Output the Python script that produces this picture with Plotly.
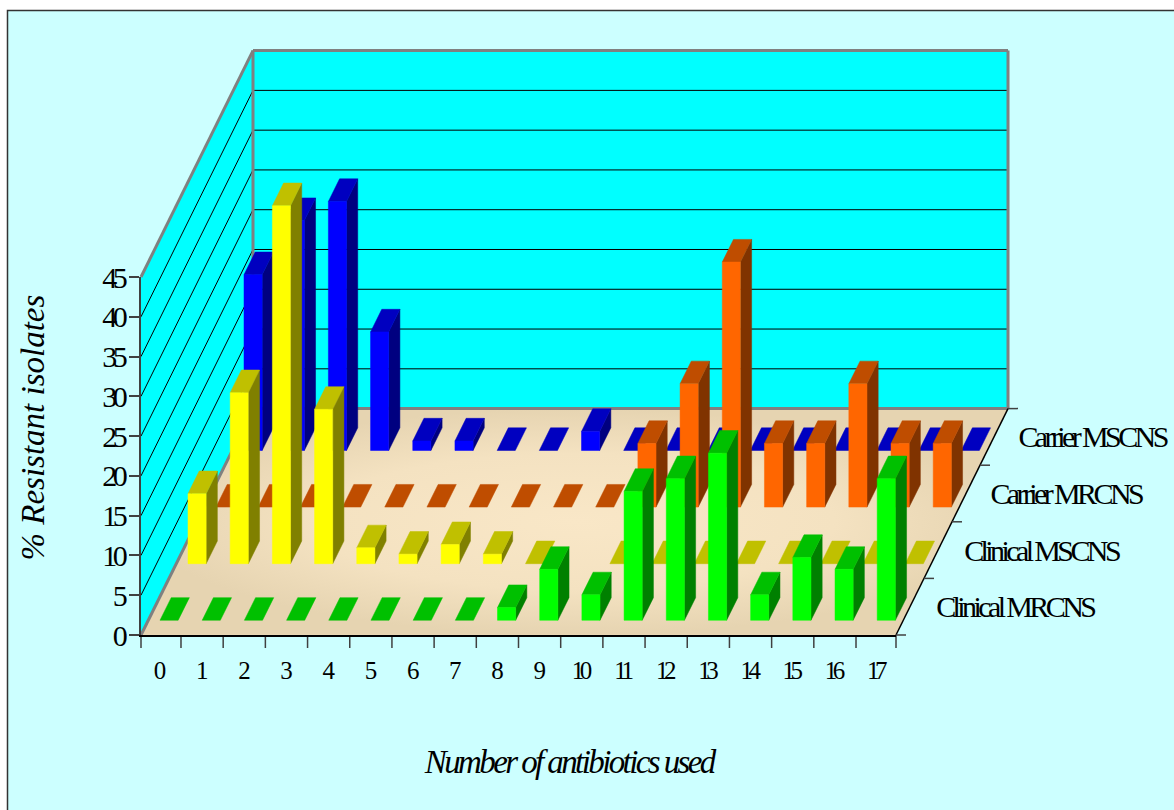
import plotly.graph_objects as go

x_labels = [str(i) for i in range(18)]
y_ticks = list(range(0, 50, 5))
series_names = ["Clinical MRCNS", "Clinical MSCNS", "Carrier MRCNS", "Carrier MSCNS"]
clinical_mrcns = [0, 0, 0, 0, 0, 0, 0, 0, 1.6, 6.4, 3.2, 16.2, 17.8, 21, 3.2, 7.9, 6.4, 17.8]
clinical_mscns = [8.8, 21.5, 45, 19.4, 2, 1.2, 2.4, 1.2, 0, None, 0, 0, 0, 0, 0, 0, 0, 0]
carrier_mrcns = [0, 0, 0, 0, 0, 0, 0, 0, 0, 0, 8, 15.5, 30.8, 8, 8, 15.5, 8, 8]
carrier_mscns = [22.1, 28.9, 31.3, 14.9, 1.2, 1.2, 0, 0, 2.4, 0, 0, 0, 0, 0, 0, 0, 0, 0]
series_values = [clinical_mrcns, clinical_mscns, carrier_mrcns, carrier_mscns]
front_colors = ["#00FF00", "#FFFF00", "#FF6600", "#0000FF"]
top_colors = ["#00C000", "#C0C000", "#BF4D00", "#0000C0"]
side_colors = ["#008000", "#808000", "#803300", "#000080"]

W, H = 1174, 810
PX0, PX1, PY0, PY1 = 141, 896, 635, 277
XR = (0.052, 17.948)
UX = (PX1 - PX0) / (XR[1] - XR[0])
UY = (PY0 - PY1) / 45
DX = 28 / UX    # x-units per series depth
DY = 56.6 / UY  # y-units per series depth
DEPTH = 4


def proj(x, d, y):
    return x + d * DX, y + d * DY


def poly(pts):
    xs, ys = [], []
    for x, d, y in pts:
        a, b = proj(x, d, y)
        xs.append(a)
        ys.append(b)
    return xs + [xs[0], None], ys + [ys[0], None]


def filled(polys, color, gradient=None):
    xs, ys = [], []
    for p in polys:
        a, b = poly(p)
        xs += a
        ys += b
    tr = go.Scatter(x=xs, y=ys, mode="lines", fill="toself", fillcolor=color,
                    line=dict(color=color, width=0.5),
                    hoverinfo="skip", showlegend=False)
    if gradient:
        tr.update(fillgradient=gradient)
    return tr


def segs(lines, color, width):
    xs, ys = [], []
    for a, b in lines:
        for p in (a, b):
            u, v = proj(*p)
            xs.append(u)
            ys.append(v)
        xs.append(None)
        ys.append(None)
    return go.Scatter(x=xs, y=ys, mode="lines", line=dict(color=color, width=width),
                      hoverinfo="skip", showlegend=False)


fig = go.Figure()
x0, x1 = XR
ymax = 45
# walls and floor
fig.add_trace(filled([[(x0, 0, 0), (x0, DEPTH, 0), (x0, DEPTH, ymax), (x0, 0, ymax)],
                      [(x0, DEPTH, 0), (x1, DEPTH, 0), (x1, DEPTH, ymax), (x0, DEPTH, ymax)]], "#00FFFF"))
fig.add_trace(filled([[(x0, 0, 0), (x1, 0, 0), (x1, DEPTH, 0), (x0, DEPTH, 0)]], "#F2E0BF",
                     gradient=dict(type="radial",
                                   colorscale=[[0, "#F9E7C7"], [0.6, "#F4E2C1"], [1, "#E6D4B1"]])))
grid = []
for t in y_ticks[1:-1]:
    grid.append(((x0, 0, t), (x0, DEPTH, t)))
    grid.append(((x0, DEPTH, t), (x1, DEPTH, t)))
fig.add_trace(segs(grid, "#000000", 1))
fig.add_trace(segs([((x0, 0, 0), (x0, DEPTH, 0)), ((x0, DEPTH, 0), (x1, DEPTH, 0)),
                    ((x0, 0, ymax), (x0, DEPTH, ymax)), ((x0, DEPTH, 0), (x0, DEPTH, ymax)),
                    ((x0, DEPTH, ymax), (x1, DEPTH, ymax)), ((x1, DEPTH, ymax), (x1, DEPTH, 0))],
                   "#808080", 3))
# depth axis
fig.add_trace(segs([((x1, 0, 0), (x1, DEPTH, 0))], "#000000", 1.5))
fig.add_trace(segs([((x1, k, 0), (x1 + 10 / UX, k, 0)) for k in range(DEPTH + 1)], "#404040", 1.5))
# x tick marks
xt = [x0] + list(range(1, 18)) + [x1]
fig.add_trace(segs([((t, 0, 0), (t, 0, -13 / UY)) for t in xt], "#404040", 1.5))

# bars
BAR_L, BAR_W, D0, BAR_D = 0.33, 0.43, 0.26, 0.40
for k in range(3, -1, -1):
    vals = series_values[k]
    fronts, sides, tops = [], [], []
    for i, v in enumerate(vals):
        if v is None:
            continue
        a, b = i + BAR_L, i + BAR_L + BAR_W
        d0, d1 = k + D0, k + D0 + BAR_D
        tops.append([(a, d0, v), (b, d0, v), (b, d1, v), (a, d1, v)])
        if v > 0:
            fronts.append([(a, d0, 0), (b, d0, 0), (b, d0, v), (a, d0, v)])
            sides.append([(b, d0, 0), (b, d1, 0), (b, d1, v), (b, d0, v)])
    if sides:
        fig.add_trace(filled(sides, side_colors[k]))
    fig.add_trace(filled(tops, top_colors[k]))
    if fronts:
        fig.add_trace(filled(fronts, front_colors[k]))

# labelled axes, drawn above the scene
fig.add_trace(go.Scatter(x=[x0, x1], y=[0, 45], xaxis="x2", yaxis="y2", mode="markers",
                         marker=dict(opacity=0), hoverinfo="skip", showlegend=False))

serif = "Liberation Serif"
annotations = []
for k, name in enumerate(series_names):
    u, v = proj(x1, k + 0.5, 0)
    annotations.append(dict(x=u, y=v, xref="x", yref="y", text=name, showarrow=False,
                            xanchor="left", yanchor="middle", xshift=-1,
                            font=dict(family=serif, size=30, color="#000000")))
annotations.append(dict(x=568.5 / W, y=1 - 762 / H, xref="paper", yref="paper",
                        text="<i>Number of antibiotics used</i>", showarrow=False,
                        xanchor="center", yanchor="middle",
                        font=dict(family=serif, size=33, color="#000000")))
annotations.append(dict(x=32 / W, y=1 - 427.5 / H, xref="paper", yref="paper", textangle=-90,
                        text="<i>% Resistant isolates</i>", showarrow=False,
                        xanchor="center", yanchor="middle",
                        font=dict(family=serif, size=33, color="#000000")))

fig.update_layout(
    width=W, height=H, autosize=False, margin=dict(l=0, r=0, t=0, b=0),
    paper_bgcolor="#FFFFFF", plot_bgcolor="rgba(0,0,0,0)", showlegend=False,
    annotations=annotations,
    shapes=[dict(type="rect", xref="paper", yref="paper", layer="below",
                 x0=7.5 / W, x1=1.01, y0=-0.01, y1=1 - 10.5 / H,
                 fillcolor="#CCFFFF", line=dict(color="#333333", width=1.5))],
    xaxis=dict(domain=[0, 1], range=[x0 - PX0 / UX, x0 + (W - PX0) / UX], visible=False, automargin=False),
    yaxis=dict(domain=[0, 1], range=[-(H - PY0) / UY, PY0 / UY], visible=False, automargin=False),
    xaxis2=dict(domain=[PX0 / W, PX1 / W], range=list(XR), anchor="y2", showgrid=False, zeroline=False,
                automargin=False, showline=True, linecolor="#000000", linewidth=1.5, ticks="",
                tickmode="array", tickvals=[i + 0.45 for i in range(18)], ticktext=x_labels,
                ticklabelstandoff=12,
                tickfont=dict(family=serif, size=25, color="#000000")),
    yaxis2=dict(domain=[1 - PY0 / H, 1 - PY1 / H], range=[0, 45], anchor="x2", showgrid=False,
                zeroline=False, automargin=False, showline=True, linecolor="#404040", linewidth=1.5,
                ticks="outside", ticklen=10, tickcolor="#404040", tickwidth=1.5,
                tickmode="array", tickvals=y_ticks,
                tickfont=dict(family=serif, size=30, color="#000000")),
)

post = """
document.documentElement.style.overflow='hidden';
document.body.style.margin='0';
document.querySelectorAll('.x2tick text').forEach(t=>t.style.letterSpacing='-4.5px');
document.querySelectorAll('.y2tick text').forEach(t=>t.style.letterSpacing='-4.5px');
document.querySelectorAll('.annotation-text').forEach(t=>{
  var s=t.textContent;
  t.style.letterSpacing = s.includes('CNS') ? '-3.6px' : (s.includes('Number') ? '-2.6px' : '0px');
});
"""
fig.write_html("out.html", post_script=post, config=dict(displayModeBar=False))
